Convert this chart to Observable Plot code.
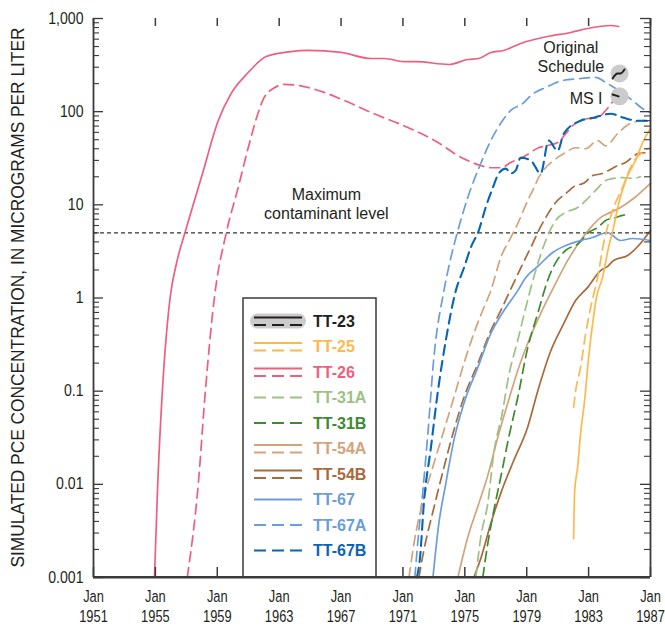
<!DOCTYPE html>
<html><head><meta charset="utf-8">
<script src="https://cdn.jsdelivr.net/npm/d3@7"></script>
<script src="https://cdn.jsdelivr.net/npm/@observablehq/plot@0.6"></script>
<style>
body{margin:0;background:#fff;}
#chart{position:relative;width:665px;height:626px;}
</style></head><body><div id="chart"></div>
<script>
const FONT = '"Liberation Sans", Arial, sans-serif';

// ---- data: [year, concentration µg/L] ----
const tt23Solid = [[1984.55,227],[1984.87,257],[1985.06,257],[1985.32,284]];
const tt23Dashed = [[1984.55,153],[1984.94,146]];
const tt25Solid = [[1982.03,0.0026],[1982.1,0.0086],[1982.29,0.0152],[1982.48,0.035],[1982.74,0.079],[1983.0,0.23],[1983.26,0.53],[1983.5,1.0],[1983.9,1.66],[1984.29,3.5],[1984.61,5.7],[1984.94,10.3],[1985.39,18.2],[1986.03,30],[1986.55,49],[1987.0,66]];
const tt25Dashed = [[1982.03,0.067],[1982.16,0.10],[1982.48,0.18],[1982.81,0.416],[1983.13,0.79],[1983.58,1.66],[1983.97,3.85],[1984.55,8.7],[1985.19,15.3],[1985.84,27.8],[1986.4,36],[1987.0,41]];
const tt26Solid = [[1954.94,0.001],[1955.15,0.01],[1955.45,0.1],[1955.95,1],[1956.4,2.5],[1956.94,5.2],[1957.97,19.6],[1959.06,80],[1959.9,157],[1961.0,263],[1962.16,391],[1963.77,442],[1964.87,454],[1967.0,432],[1968.94,372],[1969.77,372],[1971.06,345],[1971.84,345],[1973.97,321],[1975.19,363],[1975.9,372],[1976.68,432],[1977.52,454],[1978.61,540],[1980.35,641],[1981.84,708],[1982.94,781],[1984.42,841],[1984.94,820]];
const tt26Dashed = [[1957.06,0.001],[1957.77,0.01],[1958.23,0.1],[1958.81,1],[1959.58,5],[1960.35,15.3],[1961.0,41],[1961.65,98],[1962.03,142],[1962.61,177],[1963.32,196],[1964.23,191],[1965.9,161],[1967.19,132],[1969.13,95],[1971.32,67.6],[1973.26,46.7],[1974.55,33.8],[1976.03,26.4],[1976.68,25],[1977.32,25],[1977.97,28.5],[1978.61,32],[1978.94,33.9],[1979.77,41],[1980.23,43],[1981.0,46.7],[1981.52,58],[1981.97,71],[1982.48,80],[1983.0,84.5],[1983.58,86],[1984.1,103],[1984.61,132]];
const tt31aDashed = [[1975.71,0.001],[1976.03,0.0027],[1976.48,0.0062],[1976.87,0.0214],[1977.45,0.062],[1977.84,0.147],[1978.42,0.35],[1978.94,0.79],[1979.58,1.97],[1980.23,4.14],[1980.87,6.8],[1981.52,8.3],[1982.29,9.36],[1982.81,11.1],[1983.45,14.3],[1984.1,18.2],[1984.61,19.2],[1985.19,19.6],[1985.84,19.2],[1986.35,20]];
const tt31bDashed = [[1976.16,0.001],[1976.48,0.0023],[1976.87,0.0052],[1977.32,0.0119],[1977.84,0.032],[1978.42,0.0855],[1979.06,0.29],[1979.71,0.68],[1980.35,1.54],[1980.87,2.4],[1981.52,3.24],[1982.35,3.85],[1983.0,5.05],[1983.58,5.7],[1984.1,6.8],[1984.74,7.3],[1985.19,7.7],[1985.58,7.9]];
const tt54aSolid = [[1974.55,0.001],[1975.19,0.0027],[1975.9,0.0062],[1976.48,0.0124],[1977.13,0.0318],[1977.77,0.074],[1978.42,0.167],[1979.06,0.325],[1979.9,0.68],[1980.74,1.3],[1981.65,2.53],[1982.48,4.14],[1983.13,5.7],[1983.77,7.3],[1984.42,8.3],[1985.06,9.36],[1985.9,11.7],[1987.0,17]];
const tt54aDashed = [[1971.39,0.001],[1971.71,0.0023],[1972.35,0.0072],[1973.0,0.0167],[1973.65,0.038],[1974.29,0.0855],[1974.94,0.198],[1975.58,0.416],[1976.23,0.79],[1976.68,1.2],[1977.32,2.72],[1977.97,4.46],[1978.42,6.3],[1979.06,11.1],[1979.39,14.3],[1979.77,19.6],[1980.23,25.2],[1980.74,30],[1981.52,36.5],[1982.16,41],[1982.81,40],[1983.58,49],[1984.1,43],[1984.87,58],[1985.71,75],[1986.55,80],[1987.0,80]];
const tt54bSolid = [[1975.58,0.001],[1976.03,0.0016],[1976.68,0.0038],[1977.32,0.008],[1978.16,0.018],[1979.06,0.041],[1979.71,0.1],[1980.55,0.27],[1981.39,0.53],[1982.16,0.94],[1982.94,1.3],[1983.77,1.97],[1984.23,2.18],[1984.61,2.53],[1985.52,2.86],[1986.35,3.85],[1987.0,5.3]];
const tt54bDashed = [[1972.03,0.001],[1972.35,0.00195],[1973.0,0.0056],[1973.65,0.0152],[1974.29,0.038],[1974.94,0.0855],[1975.84,0.198],[1976.68,0.448],[1977.32,0.73],[1977.84,1.12],[1978.94,2.72],[1979.39,3.85],[1979.77,5.3],[1980.23,7.3],[1980.87,10.6],[1981.52,13.2],[1982.16,16.1],[1982.68,17],[1983.26,20.6],[1983.9,21.7],[1984.29,23.4],[1984.87,26.4],[1985.39,28.5],[1986.23,35.6],[1987.0,36.5]];
const tt67Solid = [[1972.94,0.001],[1973.32,0.0038],[1973.77,0.0102],[1974.29,0.0296],[1974.94,0.074],[1975.84,0.18],[1976.68,0.416],[1977.52,0.73],[1978.42,1.2],[1978.94,1.66],[1979.77,2.23],[1980.68,3.08],[1981.52,3.66],[1982.48,4.14],[1983.26,4.46],[1984.23,5.05],[1984.55,4.69],[1985.06,4.14],[1985.84,4.35],[1987.0,4.14]];
const tt67aDashed = [[1971.77,0.001],[1971.97,0.0025],[1972.29,0.0086],[1972.61,0.035],[1973.0,0.23],[1973.65,1.2],[1974.1,2.72],[1974.55,5.3],[1975.19,12],[1976.03,27.8],[1976.68,49],[1977.32,75],[1977.97,103],[1978.81,125],[1979.26,149],[1980.23,182],[1981.32,216],[1982.48,227],[1983.45,233],[1984.1,206],[1984.94,169],[1985.84,132],[1986.48,108],[1987.0,98]];
const tt67bDashed = [[1971.9,0.001],[1972.1,0.0016],[1972.35,0.0062],[1972.81,0.025],[1973.26,0.10],[1973.77,0.35],[1974.42,1.2],[1974.94,2.1],[1975.39,3.5],[1975.9,5.3],[1976.35,9.4],[1976.81,15.3],[1977.19,21.7],[1977.65,24.5],[1977.97,21.7],[1978.29,23.4],[1978.61,32],[1979.26,30],[1979.9,21.7],[1980.42,49],[1981.0,38],[1981.39,58],[1982.48,80],[1983.32,86],[1984.42,95],[1985.26,86],[1986.16,80],[1987.0,80]];
const bubbles = [[1985.0,257],[1985.0,146]];
const mcl = 5;

const wells = ["TT-23","TT-25","TT-26","TT-31A","TT-31B","TT-54A","TT-54B","TT-67","TT-67A","TT-67B"];
const colors = ["#231f20","#fdb94e","#ef5f7d","#9dc183","#3d8b2f","#d3a47c","#a86a3c","#6a9ddb","#6a9ddb","#0865b3"];
const hasSolid = [true,true,true,false,false,true,true,true,false,false];
const hasDashed = [true,true,true,true,true,true,true,false,true,true];

const xTicks = [1951,1955,1959,1963,1967,1971,1975,1979,1983,1987];
const yTicks = [0.001,0.01,0.1,1,10,100,1000];
const yTickLabels = ["0.001","0.01","0.1","1","10","100","1,000"];
const yLabel = "SIMULATED PCE CONCENTRATION, IN MICROGRAMS PER LITER";

// ---- build ----
const col = w => colors[wells.indexOf(w)];
const series = [
  {w:"TT-26", d:tt26Solid, dash:false},{w:"TT-26", d:tt26Dashed, dash:true},
  {w:"TT-67A", d:tt67aDashed, dash:true},
  {w:"TT-54A", d:tt54aDashed, dash:true},{w:"TT-54A", d:tt54aSolid, dash:false},
  {w:"TT-54B", d:tt54bDashed, dash:true},{w:"TT-54B", d:tt54bSolid, dash:false},
  {w:"TT-31A", d:tt31aDashed, dash:true},{w:"TT-31B", d:tt31bDashed, dash:true},
  {w:"TT-67", d:tt67Solid, dash:false},
  {w:"TT-25", d:tt25Dashed, dash:true},{w:"TT-25", d:tt25Solid, dash:false},
  {w:"TT-67B", d:tt67bDashed, dash:true}
];

const W = 665, H = 626, mL = 93, mR = 15, mT = 18, mB = 49;
const pW = W - mL - mR, pH = H - mT - mB;
const yMinor = [];
for (const d of [0.001,0.01,0.1,1,10,100]) for (let k = 2; k <= 9; k++) yMinor.push(+(d*k).toPrecision(3));

const axisColor = "#3a3a3a";
const chart = Plot.plot({
  width: W, height: H, marginLeft: mL, marginRight: mR, marginTop: mT, marginBottom: mB,
  style: {fontFamily: FONT, fontSize: "15px", color: "#231f20", background: "#fff", overflow: "visible"},
  x: {domain: [1951, 1987]},
  y: {type: "log", domain: [0.001, 1000]},
  marks: [
    Plot.axisX({ticks: xTicks, tickFormat: d => "Jan\n" + d, tickSize: 0, tickPadding: 10, lineHeight: 1.22, fontSize: 16.5, fill: "#231f20"}),
    Plot.axisY({ticks: yTicks, tickFormat: d => yTickLabels[yTicks.indexOf(d)], tickSize: 0, tickPadding: 10, fontSize: 16, fill: "#231f20", label: null}),
    Plot.ruleY([mcl], {stroke: "#333", strokeWidth: 1.2, strokeDasharray: "4,3"}),
    Plot.text(["Maximum\ncontaminant level"], {x: 1966.05, y: 10.3, text: d => d, fontSize: 16, lineHeight: 1.2, fill: "#231f20"}),
    ...series.map(s => Plot.line(s.d, {x: d => d[0], y: d => d[1], stroke: col(s.w), curve: "monotone-x", strokeWidth: s.w === "TT-67B" ? 2.1 : 1.7, strokeDasharray: s.dash ? "10,6" : null})),
    Plot.dot(bubbles, {x: d => d[0], y: d => d[1], r: 9, fill: "#cbcbcb"}),
    Plot.line(tt23Solid, {x: d => d[0], y: d => d[1], stroke: col("TT-23"), strokeWidth: 2, curve: "monotone-x"}),
    Plot.line(tt23Dashed, {x: d => d[0], y: d => d[1], stroke: col("TT-23"), strokeWidth: 2}),
    Plot.text(["Original\nSchedule"], {x: 1981.85, y: 391, text: d => d, fontSize: 16, lineHeight: 1.2, fill: "#231f20"}),
    Plot.text(["MS I"], {x: 1983.9, y: 138, text: d => d, fontSize: 16, textAnchor: "end", fill: "#231f20"}),
    // frame lines
    Plot.ruleX([1951, 1987], {stroke: axisColor, strokeWidth: 1.8}),
    Plot.ruleY([0.001], {stroke: axisColor, strokeWidth: 1.8}),
    // inward ticks
    Plot.tickX(xTicks, {x: d => d, insetTop: pH - 10, stroke: axisColor, strokeWidth: 1.5}),
    Plot.tickX(xTicks, {x: d => d, insetBottom: pH - 8, stroke: axisColor, strokeWidth: 1.5}),
    Plot.tickY(yTicks, {y: d => d, insetRight: pW - 10, stroke: axisColor, strokeWidth: 1.3}),
    Plot.tickY(yTicks, {y: d => d, insetLeft: pW - 10, stroke: axisColor, strokeWidth: 1.3}),
    Plot.tickY(yMinor, {y: d => d, insetRight: pW - 6, stroke: axisColor, strokeWidth: 1.1}),
    Plot.tickY(yMinor, {y: d => d, insetLeft: pW - 6, stroke: axisColor, strokeWidth: 1.1})
  ]
});
document.getElementById("chart").appendChild(chart);

const svg = d3.select(chart);
const sy = chart.scale("y"), sx = chart.scale("x");

// condense the tick labels (the reference uses a condensed face)
svg.selectAll('g[aria-label="x-axis tick label"] text').each(function () {
  this.setAttribute("transform", (this.getAttribute("transform") || "") + " scale(0.78,1)");
});
svg.selectAll('g[aria-label="y-axis tick label"] text').each(function () {
  this.setAttribute("transform", (this.getAttribute("transform") || "") + " scale(0.88,1)");
});

// y-axis title
svg.append("text")
  .attr("transform", `translate(18,${(sy.apply(0.001) + sy.apply(1000)) / 2}) rotate(-90)`)
  .attr("text-anchor", "middle").attr("dy", "0.35em")
  .attr("font-family", FONT).attr("font-size", 18).attr("fill", "#231f20")
  .attr("textLength", 540).attr("lengthAdjust", "spacingAndGlyphs")
  .text(yLabel);

// ---- legend (layout in pixels) ----
const lg = svg.append("g").attr("text-anchor", "start");
lg.append("rect").attr("x", 243).attr("y", 298).attr("width", 133).attr("height", 279)
  .attr("fill", "#fff").attr("stroke", axisColor).attr("stroke-width", 1.5);
wells.forEach((w, i) => {
  const cy = 321 + i * 25.5;
  const both = hasSolid[i] && hasDashed[i];
  if (w === "TT-23") lg.append("rect").attr("x", 250).attr("y", cy - 7.5).attr("width", 56).attr("height", 15).attr("rx", 7.5).attr("fill", "#cbcbcb");
  if (hasSolid[i]) lg.append("line").attr("x1", 254).attr("x2", 302).attr("y1", both ? cy - 3.5 : cy).attr("y2", both ? cy - 3.5 : cy)
    .attr("stroke", colors[i]).attr("stroke-width", 2);
  if (hasDashed[i]) lg.append("line").attr("x1", 254).attr("x2", 302).attr("y1", both ? cy + 4 : cy).attr("y2", both ? cy + 4 : cy)
    .attr("stroke", colors[i]).attr("stroke-width", 2).attr("stroke-dasharray", "12,6");
  lg.append("text").attr("x", 313).attr("y", cy).attr("dy", "0.36em").attr("text-anchor", "start").text(w)
    .attr("fill", colors[i]).attr("font-weight", "bold").attr("font-size", 16).attr("font-family", FONT);
});
// redraw bottom axis line over legend
svg.append("line").attr("x1", sx.apply(1951)).attr("x2", sx.apply(1987)).attr("y1", sy.apply(0.001)).attr("y2", sy.apply(0.001))
  .attr("stroke", axisColor).attr("stroke-width", 1.8);
</script></body></html>
